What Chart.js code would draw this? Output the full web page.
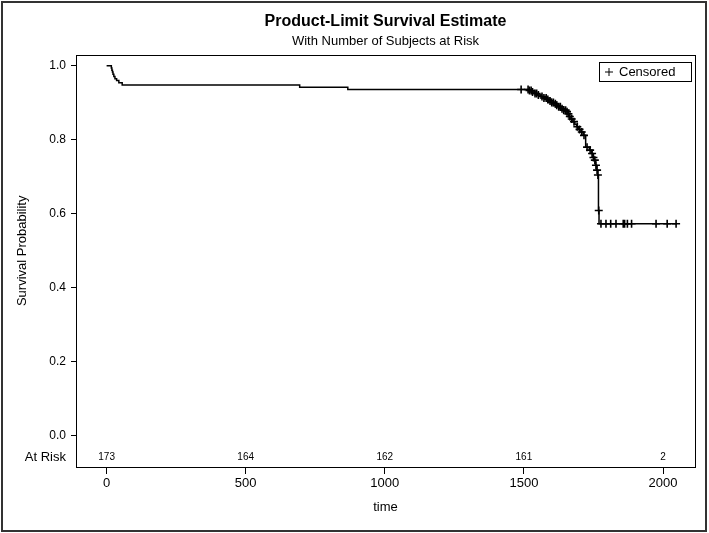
<!DOCTYPE html>
<html>
<head>
<meta charset="utf-8">
<script src="https://cdn.jsdelivr.net/npm/chart.js@4/dist/chart.umd.min.js"></script>
<style>
html,body{margin:0;padding:0;background:#fff;}
#wrap{width:709px;height:533px;position:relative;}
</style>
</head>
<body>
<div id="wrap"><canvas id="c" width="709" height="533"></canvas></div>
<script>
// ---- data ----
const kmTimes = [0, 17, 19, 21, 23, 26, 30, 36, 44, 56, 694, 867,
  1517, 1528, 1538, 1548, 1560, 1570, 1582, 1590, 1598, 1608, 1616, 1623, 1634, 1641, 1652,
  1658, 1663, 1669, 1676, 1683, 1689, 1697, 1705, 1713, 1722, 1735, 1744, 1748, 1753, 1757,
  1761, 1765, 1768, 1770, 2050];
const kmSurv = [1.000, 0.994, 0.988, 0.983, 0.977, 0.971, 0.965, 0.960, 0.954, 0.948, 0.942, 0.936,
  0.933, 0.929, 0.925, 0.921, 0.917, 0.913, 0.909, 0.905, 0.901, 0.897, 0.893, 0.889, 0.884, 0.880, 0.876,
  0.870, 0.863, 0.856, 0.849, 0.842, 0.835, 0.828, 0.821, 0.812, 0.780, 0.772, 0.763, 0.752, 0.745, 0.731,
  0.718, 0.705, 0.609, 0.573, 0.573];
const censorTimes = [1490, 1515, 1520, 1526, 1531, 1540, 1546, 1552, 1565, 1572, 1580, 1586, 1594, 1600,
  1606, 1613, 1618, 1625, 1631, 1637, 1643, 1650, 1655, 1660, 1665, 1672, 1680, 1692, 1700, 1708, 1716,
  1727, 1738, 1745, 1750, 1755, 1759, 1763, 1766, 1769, 1777, 1795, 1812, 1831, 1857, 1862, 1872, 1887,
  1975, 2015, 2047];
const atRiskTimes = [0, 500, 1000, 1500, 2000];
const atRiskCounts = [173, 164, 162, 161, 2];
const xTicks = [0, 500, 1000, 1500, 2000];
const yTicks = [0, 0.2, 0.4, 0.6, 0.8, 1.0];

// survival value on the step curve at time t (marks sit on the curve)
function survAt(t) {
  let s = kmSurv[0];
  for (let i = 0; i < kmTimes.length; i++) { if (kmTimes[i] <= t) s = kmSurv[i]; }
  return s;
}
const kmPoints = kmTimes.map((t, i) => ({x: t, y: kmSurv[i]}));
const censorPoints = censorTimes.map(t => ({x: t, y: survAt(t)}));

const FONT = "'Liberation Sans', Arial, Helvetica, sans-serif";

const decor = {
  id: 'decor',
  afterDraw(chart) {
    const ctx = chart.ctx, a = chart.chartArea;
    const xs = chart.scales.x, ys = chart.scales.y;
    ctx.save();
    // outer frame
    ctx.strokeStyle = '#333'; ctx.lineWidth = 2;
    ctx.strokeRect(2, 2, 704, 529);
    // plot frame
    ctx.strokeStyle = '#000'; ctx.lineWidth = 1;
    ctx.strokeRect(Math.round(a.left) + 0.5, Math.round(a.top) + 0.5,
      Math.round(a.right - a.left), Math.round(a.bottom - a.top));
    // titles
    const cx = (a.left + a.right) / 2;
    ctx.fillStyle = '#000'; ctx.textAlign = 'center'; ctx.textBaseline = 'middle';
    ctx.font = 'bold 16px ' + FONT;
    ctx.fillText('Product-Limit Survival Estimate', cx, 22);
    ctx.font = '13px ' + FONT;
    ctx.fillText('With Number of Subjects at Risk', cx, 41);
    // y-axis title, centred on the 0..1 range
    const yc = (ys.getPixelForValue(0) + ys.getPixelForValue(1)) / 2;
    ctx.save();
    ctx.translate(22, yc); ctx.rotate(-Math.PI / 2);
    ctx.font = '13px ' + FONT;
    ctx.fillText('Survival Probability', 0, 0);
    ctx.restore();
    // at-risk row
    const ry = ys.getPixelForValue(-0.059);
    ctx.font = '10px ' + FONT;
    atRiskTimes.forEach((t, i) => ctx.fillText(String(atRiskCounts[i]), xs.getPixelForValue(t), ry));
    ctx.textAlign = 'right';
    ctx.font = '13px ' + FONT;
    ctx.fillText('At Risk', 66, ry);
    // legend box
    const lx = 599, ly = 62, lw = 92, lh = 19;
    ctx.lineWidth = 1; ctx.strokeStyle = '#000';
    ctx.strokeRect(lx + 0.5, ly + 0.5, lw, lh);
    ctx.beginPath();
    ctx.moveTo(lx + 6, ly + 10); ctx.lineTo(lx + 14, ly + 10);
    ctx.moveTo(lx + 10, ly + 6); ctx.lineTo(lx + 10, ly + 14);
    ctx.stroke();
    ctx.textAlign = 'left';
    ctx.font = '13px ' + FONT;
    ctx.fillText('Censored', lx + 20, ly + 10.5);
    ctx.restore();
  }
};

new Chart(document.getElementById('c'), {
  type: 'scatter',
  data: {
    datasets: [
      {
        label: 'Survival',
        data: kmPoints,
        showLine: true,
        stepped: true,
        borderColor: '#000',
        borderWidth: 1.5,
        pointRadius: 0,
        fill: false
      },
      {
        label: 'Censored',
        data: censorPoints,
        showLine: false,
        pointStyle: 'cross',
        pointRadius: 4,
        borderColor: '#000',
        borderWidth: 1.6,
        backgroundColor: '#000'
      }
    ]
  },
  options: {
    responsive: false,
    animation: false,
    layout: {padding: {top: 55, right: 14, left: 0, bottom: 0}},
    plugins: {legend: {display: false}, title: {display: false}, tooltip: {enabled: false}},
    scales: {
      x: {
        type: 'linear', min: -110, max: 2115,
        afterBuildTicks: s => { s.ticks = xTicks.map(v => ({value: v})); },
        afterFit: s => { s.height = 66; },
        grid: {display: true, drawOnChartArea: false, drawTicks: true, tickLength: 7, color: '#000', lineWidth: 1},
        border: {display: false},
        ticks: {color: '#000', font: {family: FONT, size: 13}, padding: 2, maxRotation: 0, autoSkip: false,
          callback: v => String(v)},
        title: {display: true, text: 'time', color: '#000', font: {family: FONT, size: 13}, padding: {top: 0, bottom: 18}}
      },
      y: {
        type: 'linear', min: -0.084, max: 1.029,
        afterBuildTicks: s => { s.ticks = yTicks.map(v => ({value: v})); },
        afterFit: s => { s.width = 76; },
        grid: {display: true, drawOnChartArea: false, drawTicks: true, tickLength: 5, color: '#000', lineWidth: 1},
        border: {display: false},
        ticks: {color: '#000', font: {family: FONT, size: 12}, padding: 5, callback: v => Number(v).toFixed(1)}
      }
    }
  },
  plugins: [decor]
});
</script>
</body>
</html>
